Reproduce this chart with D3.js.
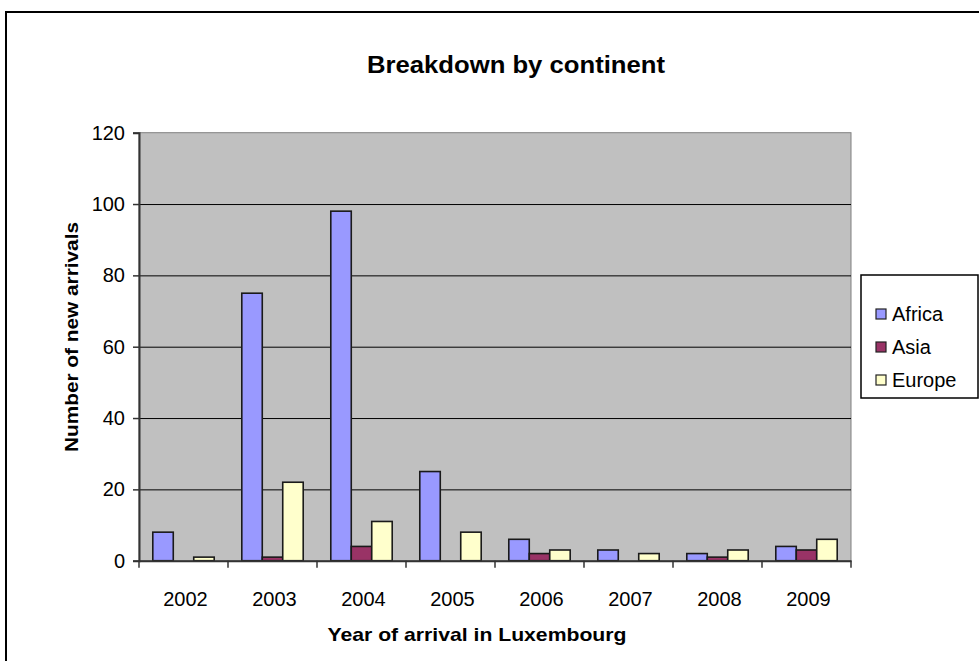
<!DOCTYPE html>
<html>
<head>
<meta charset="utf-8">
<script src="https://cdn.jsdelivr.net/npm/d3@7"></script>
<style>
  body { margin: 0; background: #fff; }
  svg { font-family: "Liberation Sans", Arial, sans-serif; }
</style>
</head>
<body>
<div id="chart"></div>
<script>
// data
const years = ["2002", "2003", "2004", "2005", "2006", "2007", "2008", "2009"];
const continents = ["Africa", "Asia", "Europe"];
const africa = [8, 75, 98, 25, 6, 3, 2, 4];
const asia = [0, 1, 4, 0, 2, 0, 1, 3];
const europe = [1, 22, 11, 8, 3, 2, 3, 6];
const yTicks = [0, 20, 40, 60, 80, 100, 120];
const colors = ["#9999ff", "#993366", "#ffffcc"];

const series = [africa, asia, europe];
const rows = years.map((yr, i) => ({
    year: yr,
    values: continents.map((c, j) => ({ key: c, value: series[j][i] }))
}));

const width = 979, height = 661;
const plot = { left: 139, right: 851, top: 132.7, bottom: 560.7 };

const svg = d3.select("#chart").append("svg")
    .attr("width", width)
    .attr("height", height);

// outer frame
svg.append("rect")
    .attr("x", 6).attr("y", 12)
    .attr("width", 1000).attr("height", 700)
    .attr("fill", "none")
    .attr("stroke", "#000")
    .attr("stroke-width", 2);

const x0 = d3.scaleBand().domain(years).range([plot.left, plot.right]);
const gap = x0.bandwidth() * 0.155;
const x1 = d3.scaleBand().domain(continents).range([gap, x0.bandwidth() - gap]);
const y = d3.scaleLinear().domain([0, 120]).range([plot.bottom, plot.top]);
const color = d3.scaleOrdinal().domain(continents).range(colors);

// plot background
svg.append("rect")
    .attr("x", plot.left).attr("y", plot.top)
    .attr("width", plot.right - plot.left)
    .attr("height", plot.bottom - plot.top)
    .attr("fill", "#c0c0c0")
    .attr("stroke", "#808080");

// gridlines
svg.append("g")
    .attr("transform", `translate(${plot.left},0)`)
    .call(d3.axisLeft(y).tickValues(yTicks.slice(1, -1)).tickSize(-(plot.right - plot.left)).tickFormat(""))
    .call(g => g.select(".domain").remove())
    .selectAll("line").attr("stroke", "#000");

// bars
svg.append("g")
    .selectAll("g")
    .data(rows)
    .enter().append("g")
    .attr("transform", d => `translate(${x0(d.year)},0)`)
    .selectAll("rect")
    .data(d => d.values.filter(v => v.value > 0))
    .enter().append("rect")
    .attr("x", d => x1(d.key))
    .attr("y", d => y(d.value))
    .attr("width", x1.bandwidth())
    .attr("height", d => y(0) - y(d.value))
    .attr("fill", d => color(d.key))
    .attr("stroke", "#1a1a1a")
    .attr("stroke-width", 1.6);

// y axis
const yAxis = svg.append("g")
    .attr("transform", `translate(${plot.left},0)`)
    .call(d3.axisLeft(y).tickValues(yTicks).tickSize(6).tickPadding(8));
yAxis.select(".domain").attr("stroke", "#333").attr("stroke-width", 2);
yAxis.selectAll("line").attr("stroke", "#333").attr("stroke-width", 1.5);
yAxis.selectAll("text").style("font-size", "20px").attr("fill", "#000");

// x axis: labels under categories, ticks at category boundaries
const xAxis = svg.append("g")
    .attr("transform", `translate(0,${plot.bottom})`)
    .call(d3.axisBottom(x0).tickSize(0).tickPadding(31));
xAxis.select(".domain").attr("stroke", "#333").attr("stroke-width", 2);
xAxis.selectAll("text").style("font-size", "20px").attr("fill", "#000")
    .attr("dx", 2);
xAxis.selectAll(".bound")
    .data(years.concat(["end"]))
    .enter().append("line")
    .attr("x1", (d, i) => i < years.length ? x0(d) : plot.right)
    .attr("x2", (d, i) => i < years.length ? x0(d) : plot.right)
    .attr("y1", 0).attr("y2", 7)
    .attr("stroke", "#333")
    .attr("stroke-width", 1.5);

// titles
svg.append("text")
    .attr("x", 516).attr("y", 73)
    .attr("text-anchor", "middle")
    .attr("textLength", 298).attr("lengthAdjust", "spacingAndGlyphs")
    .style("font-size", "24px").style("font-weight", "bold")
    .text("Breakdown by continent");

svg.append("text")
    .attr("x", 477).attr("y", 641)
    .attr("text-anchor", "middle")
    .attr("textLength", 299).attr("lengthAdjust", "spacingAndGlyphs")
    .style("font-size", "19px").style("font-weight", "bold")
    .text("Year of arrival in Luxembourg");

svg.append("text")
    .attr("transform", "translate(78,337) rotate(-90)")
    .attr("text-anchor", "middle")
    .attr("textLength", 230).attr("lengthAdjust", "spacingAndGlyphs")
    .style("font-size", "19px").style("font-weight", "bold")
    .text("Number of new arrivals");

// legend
const legend = svg.append("g");
legend.append("rect")
    .attr("x", 861).attr("y", 275)
    .attr("width", 117).attr("height", 123)
    .attr("fill", "#fff")
    .attr("stroke", "#000")
    .attr("stroke-width", 1.5);

const legendY = d3.scalePoint().domain(continents).range([314, 380]);
const item = legend.selectAll(".item")
    .data(continents)
    .enter().append("g")
    .attr("transform", d => `translate(876,${legendY(d)})`);
item.append("rect")
    .attr("x", 0).attr("y", -5)
    .attr("width", 10).attr("height", 10)
    .attr("fill", d => color(d))
    .attr("stroke", "#222")
    .attr("stroke-width", 1.2);
item.append("text")
    .attr("x", 16).attr("y", 7)
    .style("font-size", "20px")
    .text(d => d);
</script>
</body>
</html>
